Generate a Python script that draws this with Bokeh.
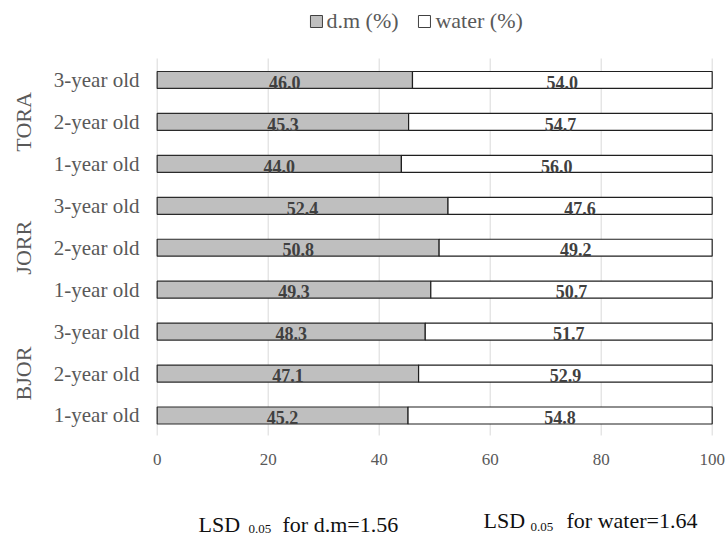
from bokeh.plotting import figure
from bokeh.models import ColumnDataSource, Range1d
from bokeh.core.properties import value
from bokeh.embed import file_html
from bokeh.resources import INLINE

groups = ["BJOR", "BJOR", "BJOR", "JORR", "JORR", "JORR", "TORA", "TORA", "TORA"]
ages = ["1-year old", "2-year old", "3-year old"] * 3
dm = [45.2, 47.1, 48.3, 49.3, 50.8, 52.4, 44.0, 45.3, 46.0]
water = [54.8, 52.9, 51.7, 50.7, 49.2, 47.6, 56.0, 54.7, 54.0]
group_names = ["BJOR", "JORR", "TORA"]
series_names = ["d.m (%)", "water (%)"]
x_ticks = [0, 20, 40, 60, 80, 100]
lsd_dm = 1.56
lsd_water = 1.64

FONT = "Liberation Serif"
GRAY_TXT = "#595959"
rows = list(range(len(dm)))

# The frame spans the whole figure so that all texts (legend, notes, group labels)
# can be placed in data space; scale: 5.55 px per % (x), 41.94 px per row (y).
p = figure(width=726, height=539, output_backend="svg", toolbar_location=None,
           x_range=Range1d(-28.23, 102.58), y_range=Range1d(-2.957, 9.895),
           x_axis_location=None, y_axis_location=None,
           min_border=0)
p.outline_line_color = None
p.xgrid.grid_line_color = None
p.ygrid.grid_line_color = None

# vertical grid lines
p.segment(x0=x_ticks, x1=x_ticks, y0=[-0.477] * len(x_ticks), y1=[8.512] * len(x_ticks),
          line_color="#d9d9d9", line_width=1)

src = ColumnDataSource(dict(
    y=rows,
    dm=dm,
    total=[a + b for a, b in zip(dm, water)],
    dm_mid=[a / 2 for a in dm],
    w_mid=[a + b / 2 for a, b in zip(dm, water)],
    dm_txt=[f"{v:.1f}" for v in dm],
    w_txt=[f"{v:.1f}" for v in water],
    ty=[r - 0.053 for r in rows],
))

p.hbar(y="y", left=0, right="dm", height=0.405, source=src,
       fill_color="#bfbfbf", line_color="#2b2b2b", line_width=1.2)
p.hbar(y="y", left="dm", right="total", height=0.405, source=src,
       fill_color="white", line_color="#1f1f1f", line_width=1.2)

for col_x, col_t in (("dm_mid", "dm_txt"), ("w_mid", "w_txt")):
    p.text(x=col_x, y="ty", text=col_t, source=src, text_align="center",
           text_baseline="middle", text_font=value(FONT), text_font_size="18px",
           text_font_style="bold", text_color="#404040")

# y tick labels (ages)
p.text(x=[-3.19] * len(rows), y=rows, text=ages, text_align="right", text_baseline="middle",
       text_font=value(FONT), text_font_size="21px", text_color=GRAY_TXT)

# x tick labels
p.text(x=x_ticks, y=[-1.042] * len(x_ticks), text=[str(t) for t in x_ticks],
       text_align="center", text_baseline="middle",
       text_font=value(FONT), text_font_size="17px", text_color=GRAY_TXT)

# group labels (rotated)
p.text(x=[-24.0] * len(group_names), y=[3 * i + 1 for i in range(len(group_names))],
       text=group_names, angle=1.5708, text_align="center", text_baseline="middle",
       text_font=value(FONT), text_font_size="22px", text_color=GRAY_TXT)

# legend (top)
p.scatter(x=[28.70, 48.16], y=[9.394, 9.394], marker="square", size=12,
          fill_color=["#bfbfbf", "white"], line_color="#404040", line_width=1)
p.text(x=[30.50, 50.14], y=[9.418, 9.418], text=series_names, text_align="left",
       text_baseline="middle", text_font=value(FONT), text_font_size="22px",
       text_color=GRAY_TXT)

# LSD notes
p.text(x=[7.44, 58.79], y=[-2.611, -2.503], text=["LSD", "LSD"], text_align="left",
       text_baseline="middle", text_font=value(FONT), text_font_size="22px",
       text_color="#111111")
p.text(x=[16.45, 67.26], y=[-2.718, -2.66], text=["0.05", "0.05"], text_align="left",
       text_baseline="middle", text_font=value(FONT), text_font_size="13px",
       text_color="#111111")
p.text(x=[22.58, 73.75], y=[-2.611, -2.503],
       text=[f"for d.m={lsd_dm}", f"for water={lsd_water}"], text_align="left",
       text_baseline="middle", text_font=value(FONT), text_font_size="22px",
       text_color="#111111")

open("out.html", "w").write(file_html(p, INLINE))
